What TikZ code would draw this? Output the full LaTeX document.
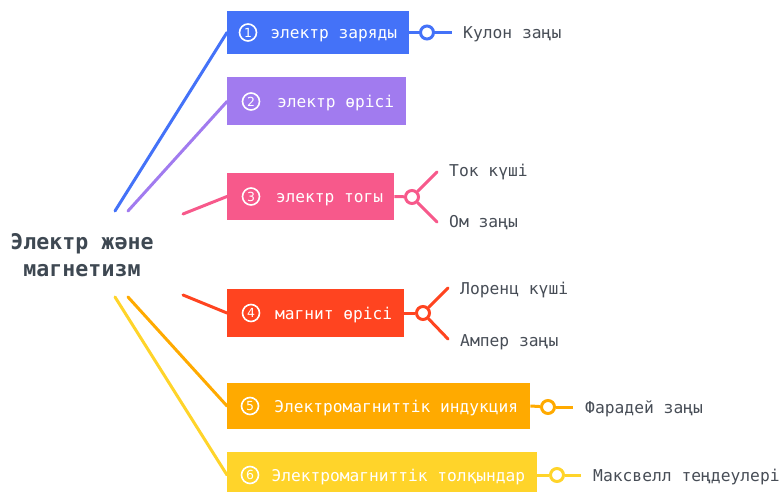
\documentclass[tikz,border=0pt]{standalone}
\usepackage{fontspec}
\setmainfont{DejaVu Sans}
\newfontfamily\monof{DejaVu Sans Mono}
\usetikzlibrary{calc}
\definecolor{cA}{HTML}{4472F8}
\definecolor{cB}{HTML}{A17BEF}
\definecolor{cC}{HTML}{F7598B}
\definecolor{cD}{HTML}{FF4420}
\definecolor{cE}{HTML}{FFAA00}
\definecolor{cF}{HTML}{FFD42A}
\definecolor{ttl}{HTML}{3E4852}
\definecolor{lbc}{HTML}{474D56}
\begin{document}
\begin{tikzpicture}[x=1bp,y=-1bp,
  box/.style={rectangle, inner sep=0pt, anchor=west},
  num/.style={circle, draw=white, line width=1.6bp, minimum size=17bp, inner sep=0pt, text=white, font=\fontsize{12.5bp}{13bp}\selectfont},
  btxt/.style={inner sep=0pt, text=white, anchor=base east, font=\monof\fontsize{16.2bp}{19bp}\selectfont},
  lbl/.style={inner sep=0pt, text=lbc, anchor=base west, font=\monof\fontsize{16.3bp}{19bp}\selectfont},
  dot/.style={circle, minimum size=13bp, inner sep=0pt, line width=3bp, fill=white},
  conn/.style={line width=3bp},
  spoke/.style={line width=3bp, line cap=round}]
\useasboundingbox (0,0) rectangle (781,492);

% title
\node[align=center, text=ttl, inner sep=0pt, font=\monof\bfseries\fontsize{21.6bp}{27bp}\selectfont] (t) at (82,255) {Электр және\\магнетизм};

% start points
\coordinate (s1) at (115,211);
\coordinate (s2) at (128,211);
\coordinate (s3) at (183,214);
\coordinate (s4) at (183,295);
\coordinate (s5) at (128,297);
\coordinate (s6) at (115,297);

% boxes
\node[box, fill=cA, minimum width=182bp, minimum height=43bp] (b1) at (227,32.5) {};
\node[box, fill=cB, minimum width=179bp, minimum height=48bp] (b2) at (227,101.5) {};
\node[box, fill=cC, minimum width=167bp, minimum height=47bp] (b3) at (227,196.5) {};
\node[box, fill=cD, minimum width=177bp, minimum height=48bp] (b4) at (227,313) {};
\node[box, fill=cE, minimum width=303bp, minimum height=46bp] (b5) at (227,406) {};
\node[box, fill=cF, minimum width=310bp, minimum height=46bp] (b6) at (227,475) {};

\node[num] (n1) at (248,32.5) {1};
\node[num] (n2) at (251,101.5) {2};
\node[num] (n3) at (251,196.5) {3};
\node[num] (n4) at (251,313) {4};
\node[num] (n5) at (250,406) {5};
\node[num] (n6) at (250,475) {6};

\node[btxt] (x1) at ($(b1.east)+(-12,6.5)$) {электр заряды};
\node[btxt] (x2) at ($(b2.east)+(-12,6.5)$) {электр өрісі};
\node[btxt] (x3) at ($(b3.east)+(-11,6.5)$) {электр тогы};
\node[btxt] (x4) at ($(b4.east)+(-12,6.5)$) {магнит өрісі};
\node[btxt] (x5) at ($(b5.east)+(-12,6.5)$) {Электромагниттік индукция};
\node[btxt] (x6) at ($(b6.east)+(-12,6.5)$) {Электромагниттік толқындар};

% main connectors
\draw[spoke, cA] (s1) -- (b1.west);
\draw[spoke, cB] (s2) -- (b2.west);
\draw[spoke, cC] (s3) -- (b3.west);
\draw[spoke, cD] (s4) -- (b4.west);
\draw[spoke, cE] (s5) -- (b5.west);
\draw[spoke, cF] (s6) -- (b6.west);

% right side
\node[dot, draw=cA] (d1) at (427,32.5) {};
\coordinate (e1) at (452,32.5);
\draw[conn, cA] (b1.east) -- (d1);
\draw[conn, cA] (d1) -- (e1);
\node[lbl] (l1) at (463,39) {Кулон заңы};

\node[dot, draw=cC] (d3) at (412,197) {};
\coordinate (e3a) at (437,172);
\coordinate (e3b) at (437,222);
\draw[conn, cC] (b3.east) -- (d3);
\draw[spoke, cC] (d3) -- (e3a);
\draw[spoke, cC] (d3) -- (e3b);
\node[lbl] (l3a) at (449,177) {Ток күші};
\node[lbl] (l3b) at (449,228) {Ом заңы};

\node[dot, draw=cD] (d4) at (423,313) {};
\coordinate (e4a) at (448,288);
\coordinate (e4b) at (448,339);
\draw[conn, cD] (b4.east) -- (d4);
\draw[spoke, cD] (d4) -- (e4a);
\draw[spoke, cD] (d4) -- (e4b);
\node[lbl] (l4a) at (460,295) {Лоренц күші};
\node[lbl] (l4b) at (460,346) {Ампер заңы};

\node[dot, draw=cE] (d5) at (548,407) {};
\coordinate (e5) at (573,407);
\draw[conn, cE] (b5.east) -- (d5);
\draw[conn, cE] (d5) -- (e5);
\node[lbl] (l5) at (585,413) {Фарадей заңы};

\node[dot, draw=cF] (d6) at (557,475) {};
\coordinate (e6) at (581,475);
\draw[conn, cF] (b6.east) -- (d6);
\draw[conn, cF] (d6) -- (e6);
\node[lbl] (l6) at (593,481) {Максвелл теңдеулері};
\end{tikzpicture}
\end{document}
